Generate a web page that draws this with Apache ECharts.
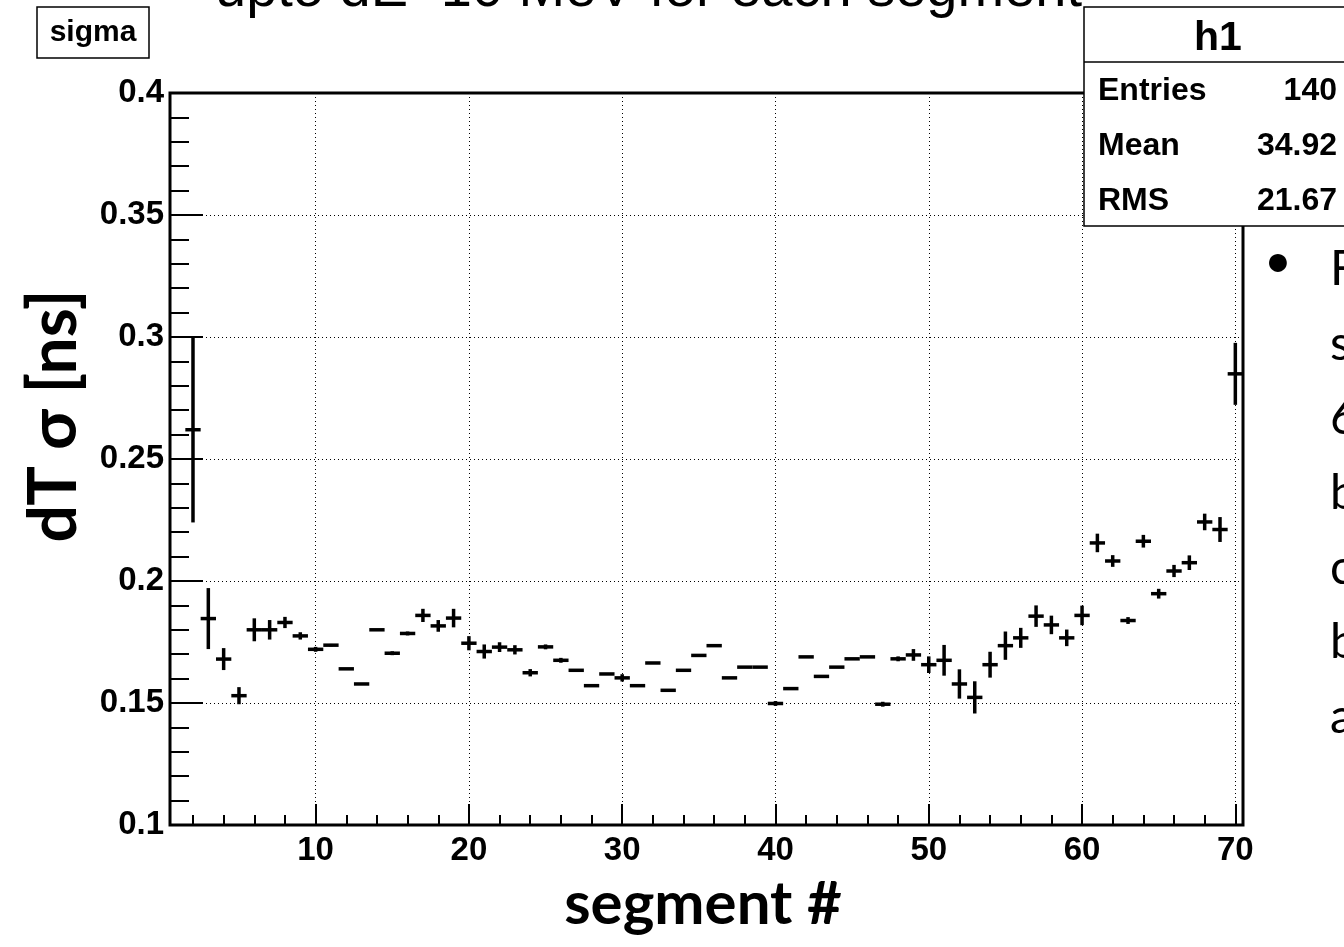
<!DOCTYPE html>
<html><head><meta charset="utf-8">
<script src="https://cdn.jsdelivr.net/npm/echarts@6/dist/echarts.min.js"></script>
<style>html,body{margin:0;padding:0;background:#fff}#c{width:1344px;height:947px}</style>
</head><body><div id="c"></div>
<script>
// ---- data ----
const segments = [2,3,4,5,6,7,8,9,10,11,12,13,14,15,16,17,18,19,20,21,22,23,24,25,26,27,28,29,30,31,32,33,34,35,36,37,38,39,40,41,42,43,44,45,46,47,48,49,50,51,52,53,54,55,56,57,58,59,60,61,62,63,64,65,66,67,68,69,70];
const sigma = [0.262,0.1846,0.168,0.153,0.180,0.180,0.183,0.1775,0.172,0.1737,0.164,0.1578,0.180,0.1704,0.1785,0.1859,0.1816,0.1848,0.1745,0.1711,0.1729,0.1718,0.1624,0.173,0.1675,0.1634,0.1571,0.1619,0.1603,0.1571,0.1664,0.1552,0.1634,0.1695,0.1735,0.1603,0.1647,0.1647,0.1498,0.1559,0.1689,0.1609,0.1647,0.1681,0.1689,0.1495,0.1681,0.1697,0.1657,0.1675,0.1578,0.1523,0.1657,0.1735,0.1767,0.1856,0.182,0.1767,0.1859,0.2156,0.2082,0.1838,0.2163,0.1948,0.2041,0.2075,0.2242,0.2211,0.2849];
const sigmaErr = [0.038,0.0125,0.0045,0.0035,0.0047,0.004,0.0023,0.0015,0.001,0.0005,0,0,0,0.0008,0.0008,0.0027,0.0024,0.0038,0.0029,0.0029,0.002,0.0019,0.0015,0.001,0.001,0,0,0,0.0015,0,0,0,0,0,0,0,0,0,0.001,0,0,0,0,0,0,0.001,0.001,0.0024,0.0034,0.0063,0.006,0.0066,0.0053,0.0058,0.0041,0.0044,0.0038,0.0034,0.004,0.0038,0.0024,0.0014,0.0026,0.002,0.0025,0.003,0.0034,0.0051,0.0127];
const xMajorTicks = [10,20,30,40,50,60,70];
const xMinorTicks = [2,4,6,8,12,14,16,18,22,24,26,28,32,34,36,38,42,44,46,48,52,54,56,58,62,64,66,68];
const histTitle = 'sigma';
const statsName = 'h1';
const statsLabels = ['Entries','Mean','RMS'];
const statsValues = ['140','34.92','21.67'];
const slideTitle = 'upto dE~10 MeV for each segment';
const slideLetters = ['F','s','6','b','c','b','a'];
const xTitle = 'segment #';
const yTitle = 'dT σ [ns]';

const chart = echarts.init(document.getElementById('c'));
const ROOTF = 'Liberation Sans';
const dotted = {color:'#000', width:1, type:[1,3]};

const graphics = [];
// slide title (cut at top)
graphics.push({type:'text', x:215, y:-9, z:100, style:{text:slideTitle, font:'56px "Liberation Sans"', fill:'#000', align:'left', verticalAlign:'middle'}});
// histogram title box
graphics.push({type:'rect', z:100, shape:{x:37,y:7,width:112,height:51}, style:{fill:'#fff', stroke:'#000', lineWidth:1.5}});
graphics.push({type:'text', z:101, x:93, y:33, style:{text:histTitle, font:'bold 30px "Liberation Sans"', fill:'#000', align:'center', verticalAlign:'middle'}});
// stats box
graphics.push({type:'rect', z:100, shape:{x:1084,y:7,width:300,height:219}, style:{fill:'#fff', stroke:'#000', lineWidth:1.5}});
graphics.push({type:'line', z:101, shape:{x1:1084,y1:62,x2:1344,y2:62}, style:{stroke:'#000', lineWidth:1.5}});
graphics.push({type:'text', z:101, x:1218, y:39, style:{text:statsName, font:'bold 41px "Liberation Sans"', fill:'#000', align:'center', verticalAlign:'middle'}});
statsLabels.forEach((lab,i)=>{
  const yy = 91 + i*55;
  graphics.push({type:'text', z:101, x:1098, y:yy, style:{text:lab, font:'bold 32px "Liberation Sans"', fill:'#000', align:'left', verticalAlign:'middle'}});
  graphics.push({type:'text', z:101, x:1337, y:yy, style:{text:statsValues[i], font:'bold 32px "Liberation Sans"', fill:'#000', align:'right', verticalAlign:'middle'}});
});
// slide bullet text on right
graphics.push({type:'text', z:101, x:1278, y:262, style:{text:'•', font:'48px Lato', fill:'#000', align:'center', verticalAlign:'middle'}});
slideLetters.forEach((ch,i)=>{
  graphics.push({type:'text', z:101, x:1330, y:269.4 + i*74.7, style:{text:ch, font:'48px Lato', fill:'#000', align:'left', verticalAlign:'middle'}});
});
// axis titles
graphics.push({type:'text', z:101, x:703, y:905, style:{text:xTitle, font:'bold 60px Lato', fill:'#000', align:'center', verticalAlign:'middle'}});
graphics.push({type:'text', z:101, x:55, y:416, rotation:Math.PI/2, style:{text:yTitle, font:'bold 66px Lato', fill:'#000', align:'center', verticalAlign:'middle'}});

const option = {
  animation:false,
  backgroundColor:'#fff',
  grid:{left:170, right:101, top:93, bottom:122, show:true, borderColor:'#000', borderWidth:3, backgroundColor:'transparent', containLabel:false},
  xAxis:[{
    type:'value', min:0.5, max:70.5,
    axisLine:{show:false},
    axisTick:{show:true, inside:true, length:21, customValues:xMajorTicks, lineStyle:{color:'#000', width:2}},
    axisLabel:{show:true, customValues:xMajorTicks, margin:9, color:'#000', fontFamily:ROOTF, fontWeight:'bold', fontSize:33},
    splitLine:{show:true, lineStyle:dotted}
  },{
    type:'value', min:0.5, max:70.5, position:'bottom',
    axisLine:{show:false},
    axisTick:{show:true, inside:true, length:10, customValues:xMinorTicks, lineStyle:{color:'#000', width:2}},
    axisLabel:{show:false},
    splitLine:{show:false}
  }],
  yAxis:{
    type:'value', min:0.1, max:0.4, interval:0.05,
    axisLine:{show:false},
    axisTick:{show:true, inside:true, length:33, lineStyle:{color:'#000', width:2}},
    minorTick:{show:true, splitNumber:5, length:19, lineStyle:{color:'#000', width:2}},
    axisLabel:{color:'#000', fontFamily:ROOTF, fontWeight:'bold', fontSize:33, margin:6, padding:[8,0,0,0]},
    splitLine:{show:true, lineStyle:dotted}
  },
  graphic:graphics,
  series:[{
    type:'custom',
    xAxisIndex:0,
    encode:{x:0, y:1},
    data: segments.map((s,i)=>[s, sigma[i], sigmaErr[i]]),
    renderItem:function(params, api){
      const x = api.value(0), y = api.value(1), e = api.value(2);
      const l = api.coord([x-0.5, y]), r = api.coord([x+0.5, y]);
      const t = api.coord([x, y+e]), b = api.coord([x, y-e]);
      const st = {stroke:'#000', lineWidth:3.5};
      const ch = [{type:'line', shape:{x1:l[0],y1:l[1],x2:r[0],y2:r[1]}, style:st}];
      if (Math.abs(t[1]-b[1]) > 0.5) ch.push({type:'line', shape:{x1:t[0],y1:t[1],x2:b[0],y2:b[1]}, style:st});
      return {type:'group', children:ch};
    }
  }]
};
chart.setOption(option);
</script></body></html>
